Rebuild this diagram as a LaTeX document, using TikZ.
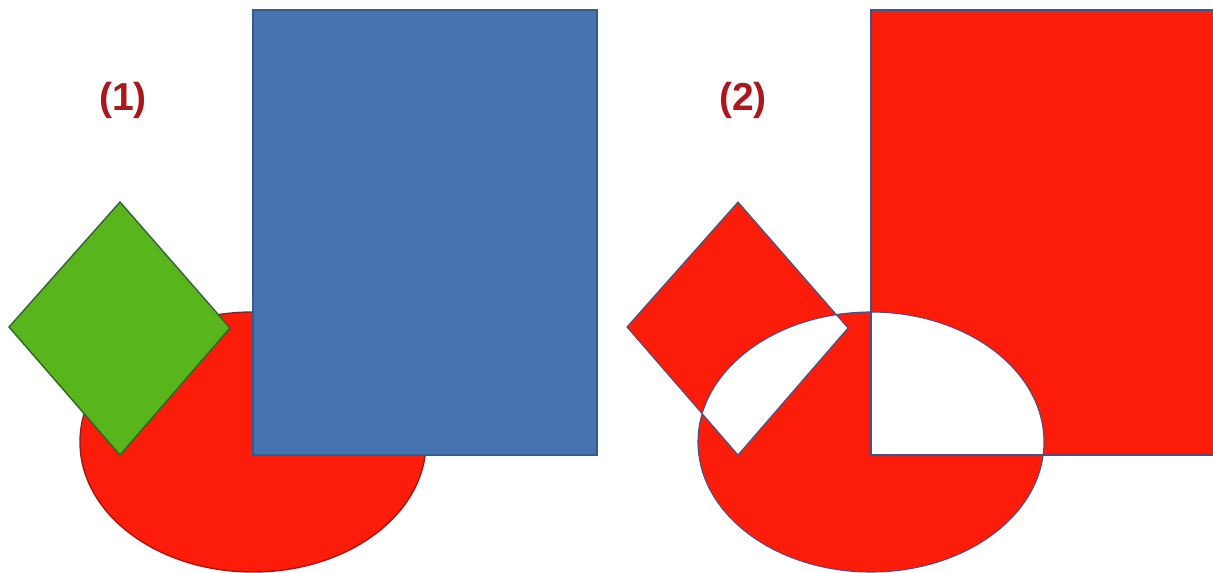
\documentclass[tikz,border=0pt]{standalone}
\usepackage{fontspec}
\setmainfont{Liberation Sans}
\definecolor{myred}{RGB}{252,28,10}
\definecolor{myredline}{RGB}{150,30,30}
\definecolor{mygreen}{RGB}{88,182,28}
\definecolor{mygreenline}{RGB}{50,100,45}
\definecolor{myblue}{RGB}{70,116,176}
\definecolor{myblueline}{RGB}{55,90,140}
\definecolor{xorline}{RGB}{75,80,130}
\definecolor{labelred}{RGB}{170,24,28}
\tikzset{
  shapeline/.style={line width=1.4pt, line join=miter},
  panellabel/.style={font=\bfseries\fontsize{39}{40}\selectfont, text=labelred, inner sep=0pt}
}
\begin{document}
\begin{tikzpicture}[x=1pt,y=-1pt]
\useasboundingbox (0,0) rectangle (1213,573);
% ---------- panel (1) ----------
\fill[myred, draw=myredline, shapeline] (253,442) ellipse [x radius=173, y radius=130];
\fill[myblue, draw=myblueline, shapeline] (253,10) rectangle (597,455);
\fill[mygreen, draw=mygreenline, shapeline] (120,202) -- (230,328) -- (120,455) -- (9,327) -- cycle;
\node[panellabel] (lab1) at (123,100) {(1)};
% ---------- panel (2) ----------
\fill[myred, even odd rule]
  (871,442) ellipse [x radius=173, y radius=130]
  (871,10) rectangle (1216,455)
  (738,202) -- (848,328) -- (738,455) -- (627,327) -- cycle;
\draw[xorline, line width=1.1pt] (871,442) ellipse [x radius=173, y radius=130];
\draw[xorline, line width=1.1pt] (871,10) rectangle (1216,455);
\draw[xorline, line width=1.1pt] (738,202) -- (848,328) -- (738,455) -- (627,327) -- cycle;
\node[panellabel] (lab2) at (743,100) {(2)};
\end{tikzpicture}
\end{document}
